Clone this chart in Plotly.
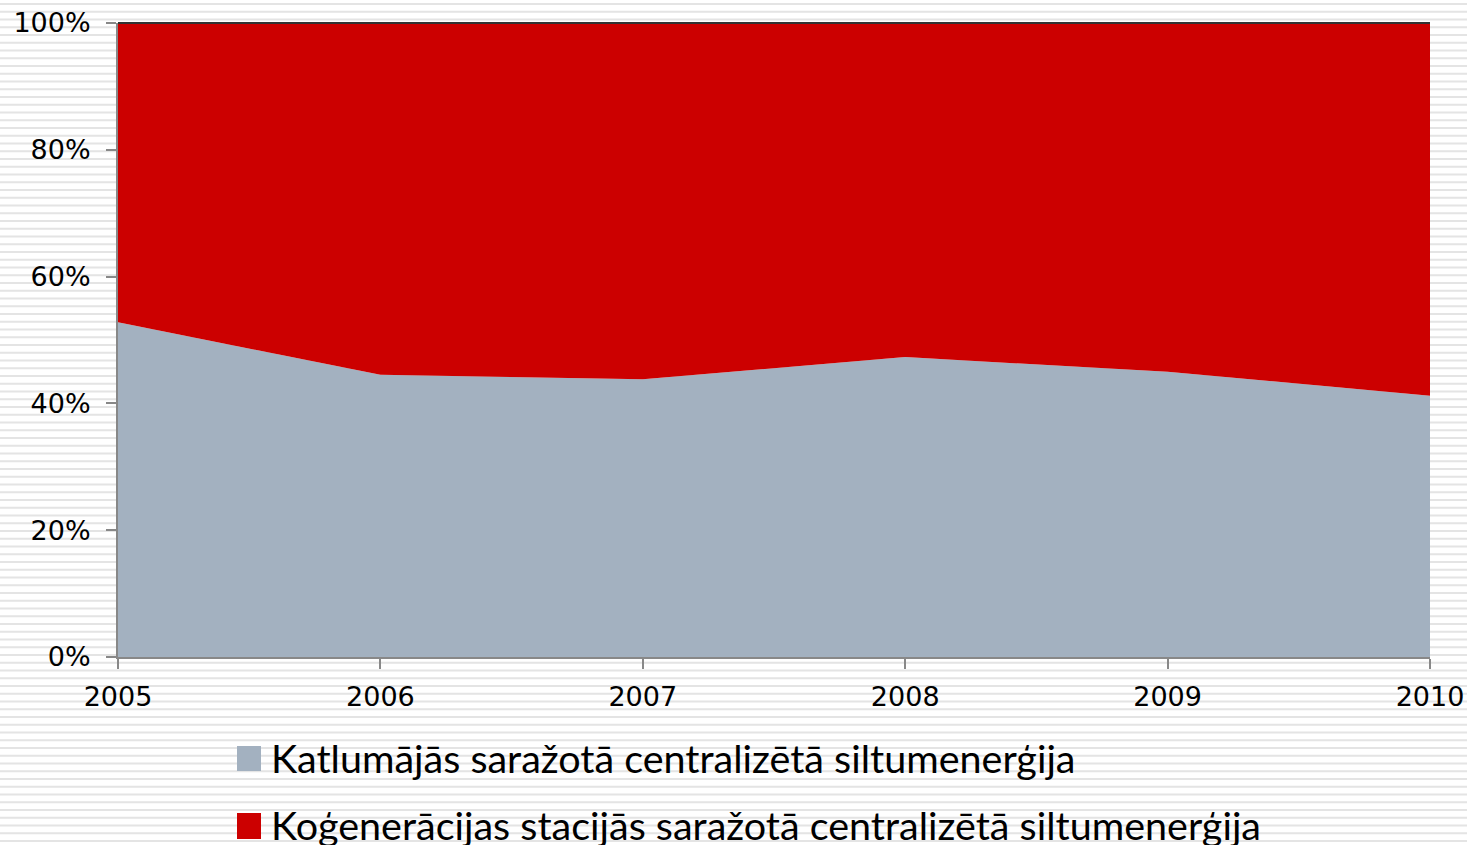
import plotly.graph_objects as go

years = [2005, 2006, 2007, 2008, 2009, 2010]
boiler_share = [52.8, 44.5, 43.8, 47.3, 45.0, 41.2]
chp_share = [47.2, 55.5, 56.2, 52.7, 55.0, 58.8]
series_names = [
    "Katlumājās saražotā centralizētā siltumenerģija",
    "Koģenerācijas stacijās saražotā centralizētā siltumenerģija",
]
y_ticks = [0, 20, 40, 60, 80, 100]
y_tick_labels = ["0%", "20%", "40%", "60%", "80%", "100%"]

W, H = 1467, 845
GRAY = "#A3B1C0"
RED = "#CC0000"

def px_x(p):
    return p / W

def px_y(p):
    return 1 - p / H

fig = go.Figure()
fig.add_trace(go.Scatter(x=years, y=boiler_share, name=series_names[0], stackgroup="one",
                         mode="lines", line=dict(width=0, color=GRAY), fillcolor=GRAY,
                         showlegend=False))
fig.add_trace(go.Scatter(x=years, y=chp_share, name=series_names[1], stackgroup="one",
                         mode="lines", line=dict(width=0, color=RED), fillcolor=RED,
                         showlegend=False))

# striped background
parts = []
y = 3.0
while y < H:
    y0, y1 = px_y(y), px_y(y + 2)
    parts.append(f"M0,{y0:.5f} L1,{y0:.5f} L1,{y1:.5f} L0,{y1:.5f} Z")
    y += 7.75
shapes = [dict(type="path", xref="paper", yref="paper", path=" ".join(parts),
               fillcolor="#E4E4E4", line=dict(width=0), layer="below")]

# top border line
shapes.append(dict(type="line", xref="paper", yref="paper", x0=px_x(118), x1=px_x(1430),
                   y0=px_y(23), y1=px_y(23), line=dict(color="#333333", width=2), layer="above"))

# legend
annotations = []
leg = [(746, 771, GRAY, series_names[0], 757), (813, 839, RED, series_names[1], 824.5)]
for t, b, c, name, cy in leg:
    shapes.append(dict(type="rect", xref="paper", yref="paper", x0=px_x(237), x1=px_x(261),
                       y0=px_y(b), y1=px_y(t), fillcolor=c, line=dict(width=0)))
    annotations.append(dict(xref="paper", yref="paper", x=px_x(269), y=px_y(cy),
                            xanchor="left", yanchor="middle", showarrow=False, text=name,
                            font=dict(family="Lato", size=39.5, color="#000000")))

fig.update_layout(
    width=W, height=H,
    margin=dict(l=0, r=0, t=0, b=0),
    paper_bgcolor="white", plot_bgcolor="rgba(0,0,0,0)",
    shapes=shapes, annotations=annotations,
    font=dict(family="DejaVu Sans", color="#000000", size=27),
    showlegend=False,
    xaxis=dict(domain=[px_x(118), px_x(1430)], range=[2005, 2010], tickvals=years,
               ticktext=[str(v) for v in years], showgrid=False, zeroline=False,
               showline=True, linecolor="#888888", linewidth=2, ticks="outside",
               ticklen=10, tickwidth=2, tickcolor="#888888", ticklabelstandoff=5,
               automargin=False, fixedrange=True),
    yaxis=dict(domain=[px_y(657), px_y(23)], range=[0, 100], tickvals=y_ticks,
               ticktext=y_tick_labels, showgrid=False, zeroline=False,
               showline=True, linecolor="#888888", linewidth=2, ticks="outside",
               ticklen=10, tickwidth=2, tickcolor="#888888", ticklabelstandoff=10,
               automargin=False, fixedrange=True),
)

fig.write_html("out.html", config={"displayModeBar": False},
               post_script="document.body.style.margin='0';document.body.style.overflow='hidden';")
